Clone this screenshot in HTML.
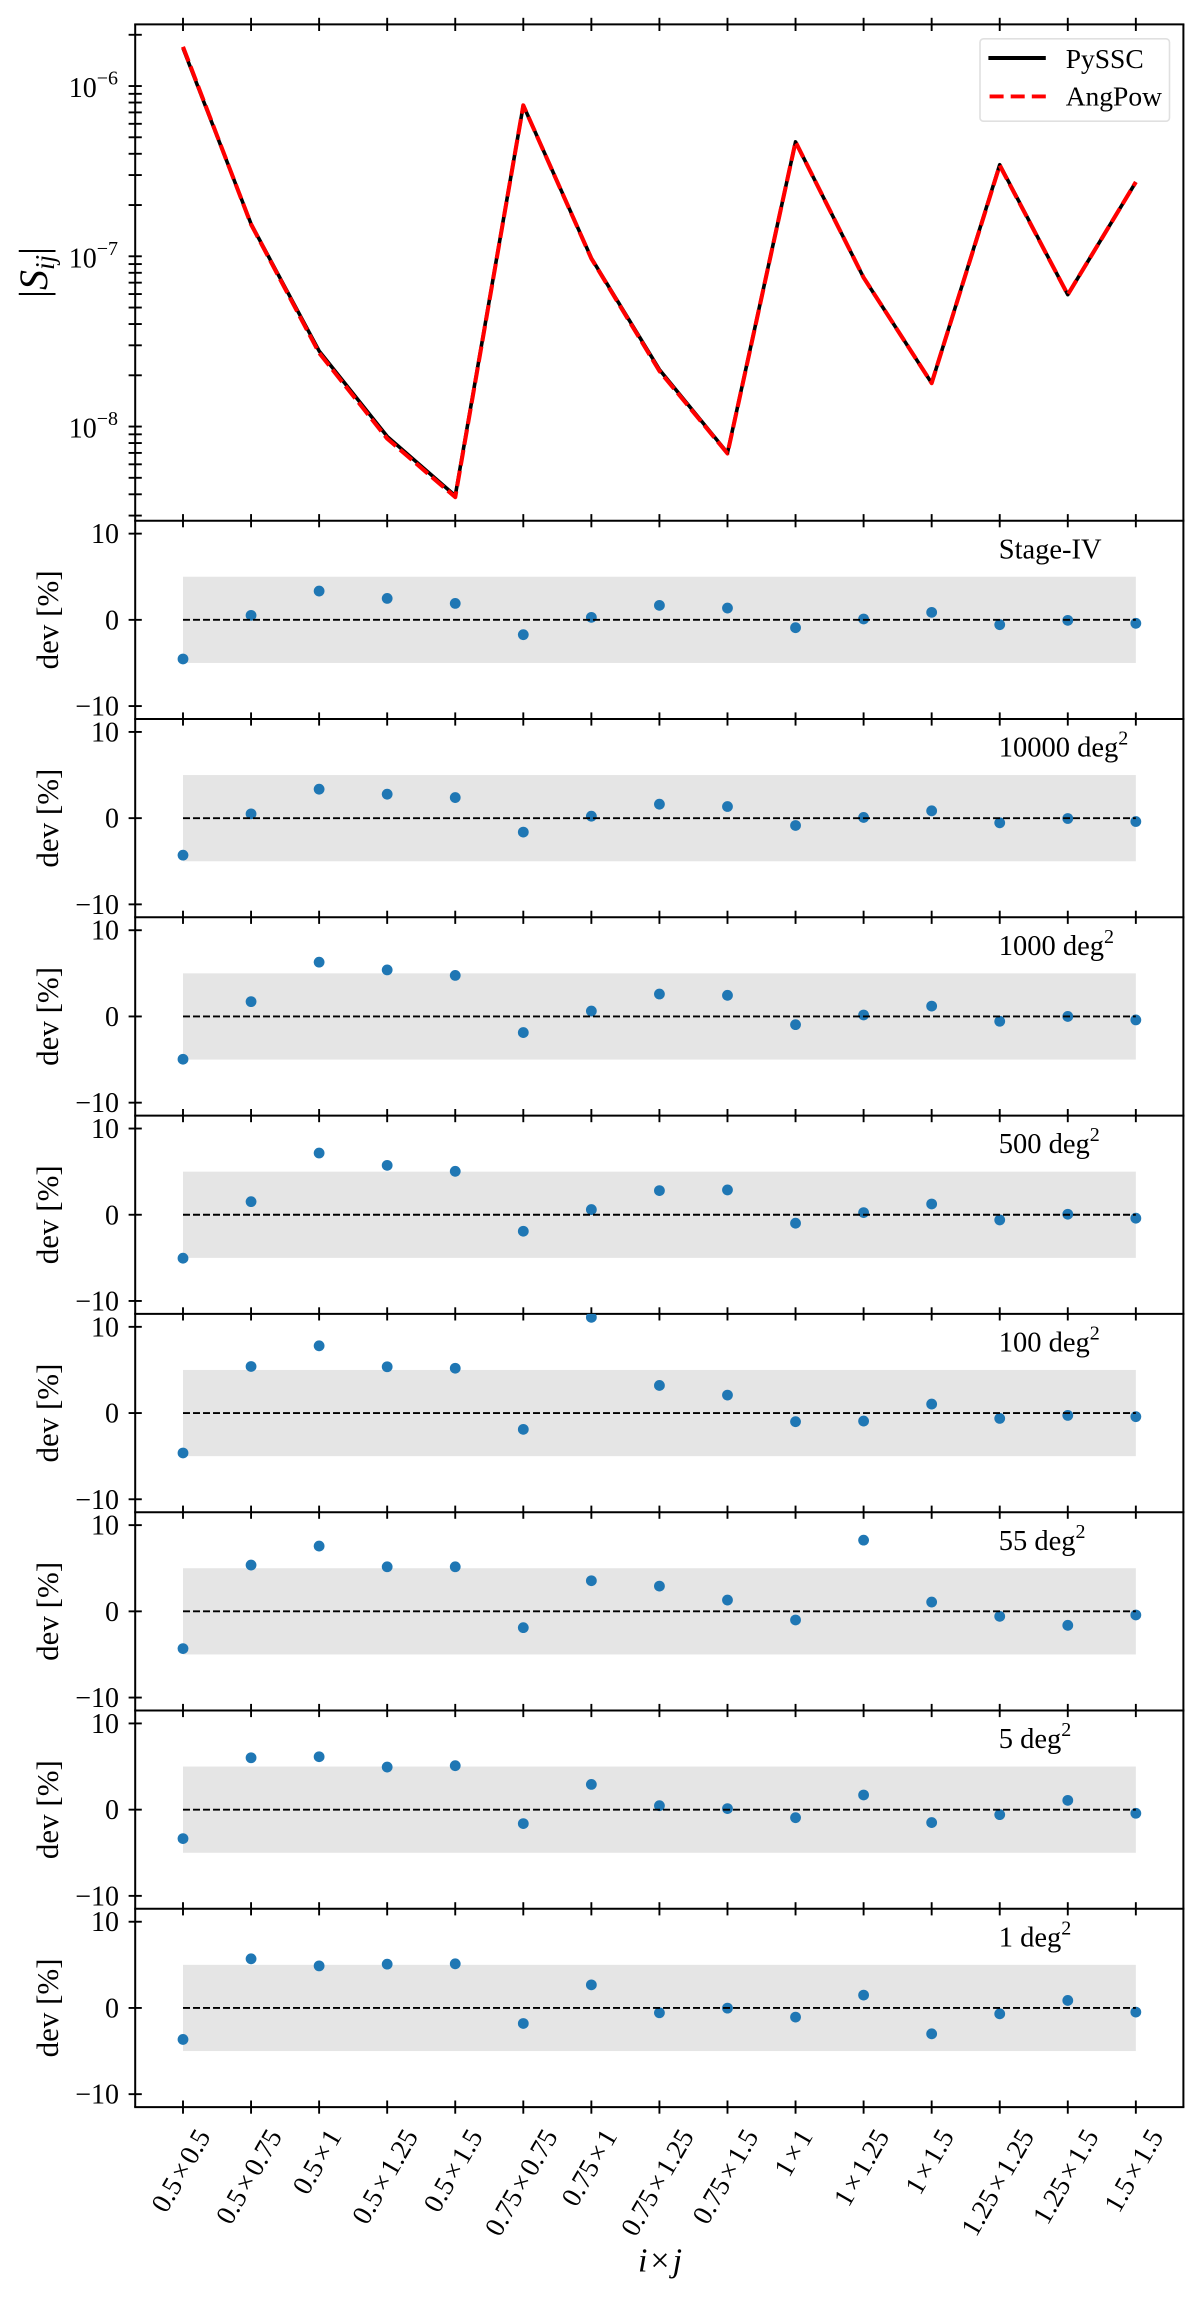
<!DOCTYPE html>
<html lang="en">
<head>
<meta charset="utf-8">
<title>PySSC vs AngPow Sij comparison</title>
<style>
html,body{margin:0;padding:0;background:#fff;}
svg{display:block;font-family:"Liberation Serif",serif;}
</style>
</head>
<body>
<svg id="chart" xmlns="http://www.w3.org/2000/svg" width="1200" height="2299" viewBox="0 0 1200 2299"></svg>
<script>
const categories = ['0.5×0.5','0.5×0.75','0.5×1','0.5×1.25','0.5×1.5','0.75×0.75','0.75×1','0.75×1.25','0.75×1.5','1×1','1×1.25','1×1.5','1.25×1.25','1.25×1.5','1.5×1.5'];
const pysscValues = [1.67e-6,1.55e-7,2.78e-8,8.75e-9,3.92e-9,7.7e-7,9.75e-8,2.16e-8,7.0e-9,4.7e-7,7.5e-8,1.8e-8,3.45e-7,5.95e-8,2.73e-7];
const angpowValues = [1.70e-6,1.54e-7,2.71e-8,8.5e-9,3.85e-9,7.7e-7,9.7e-8,2.12e-8,6.95e-9,4.7e-7,7.5e-8,1.8e-8,3.42e-7,5.95e-8,2.73e-7];
const panelLabels = ['Stage-IV','10000 deg','1000 deg','500 deg','100 deg','55 deg','5 deg','1 deg'];
const devStageIV = [-4.54,0.52,3.34,2.49,1.91,-1.72,0.29,1.68,1.37,-0.91,0.10,0.87,-0.56,-0.06,-0.40];
const dev10000 = [-4.29,0.50,3.36,2.78,2.39,-1.62,0.23,1.62,1.35,-0.85,0.08,0.85,-0.54,-0.04,-0.39];
const dev1000 = [-4.96,1.72,6.30,5.40,4.76,-1.87,0.63,2.60,2.45,-0.95,0.17,1.20,-0.56,0.00,-0.40];
const dev500 = [-5.04,1.52,7.16,5.73,5.04,-1.91,0.60,2.80,2.88,-0.98,0.25,1.25,-0.60,0.06,-0.40];
const dev100 = [-4.63,5.40,7.80,5.37,5.20,-1.89,11.10,3.20,2.08,-1.00,-0.93,1.04,-0.62,-0.27,-0.42];
const dev55 = [-4.32,5.37,7.57,5.17,5.17,-1.89,3.55,2.93,1.31,-1.00,8.26,1.08,-0.58,-1.62,-0.42];
const dev5 = [-3.36,6.02,6.14,4.94,5.10,-1.62,2.93,0.46,0.12,-0.93,1.70,-1.50,-0.58,1.08,-0.42];
const dev1 = [-3.65,5.70,4.88,5.08,5.12,-1.80,2.68,-0.56,-0.02,-1.06,1.49,-3.00,-0.68,0.87,-0.48];
const devTickValues = [10,0,-10];
const devTickLabels = ['10','0','−10'];
const logTickExponents = [-6,-7,-8];
const logTickLabels = ['−6','−7','−8'];
const logMinorMultipliers = [2,3,4,5,6,7,8,9];
const devSeries = [devStageIV,dev10000,dev1000,dev500,dev100,dev55,dev5,dev1];

const NS = 'http://www.w3.org/2000/svg';
const svg = document.getElementById('chart');
const axL = 135.2, axR = 1183.4, x0 = 183, xStep = 68.06;
const topT = 24.4, topB = 520.7, logTop = -5.638, logBottom = -8.553;
const panelStart = 520.7, panelH = 198.3, devLim = 11.5;
const TICK = 6.6;

function xScale(i){ return x0 + i * xStep; }
function yLog(v){ return topT + (logTop - Math.log10(v)) / (logTop - logBottom) * (topB - topT); }
function panelTop(p){ return panelStart + p * panelH; }
function yDev(p, v){ return panelTop(p) + (devLim - v) / (2 * devLim) * panelH; }
function mk(tag, attrs, parent){
  const el = document.createElementNS(NS, tag);
  for (const k in attrs) el.setAttribute(k, attrs[k]);
  (parent || svg).appendChild(el);
  return el;
}
function tickLine(parent, x1, y1, x2, y2){
  return mk('line', {x1:x1, y1:y1, x2:x2, y2:y2, stroke:'#000', 'stroke-width':1.9}, parent);
}
function sup(parent, txt, size, dy){
  const s = mk('tspan', {'font-size':size, dy:dy}, parent);
  s.textContent = txt;
  return s;
}

/* ---------- clip paths ---------- */
const defs = mk('defs', {});
const cpTop = mk('clipPath', {id:'clip-top'}, defs);
mk('rect', {x:axL, y:topT, width:axR-axL, height:topB-topT}, cpTop);
for (let p = 0; p < devSeries.length; p++) {
  const cp = mk('clipPath', {id:'clip-p'+p}, defs);
  mk('rect', {x:axL, y:panelTop(p), width:axR-axL, height:panelH}, cp);
}

/* ---------- spines and x ticks ---------- */
const frame = mk('g', {});


const boundaries = [topT];
for (let p = 0; p <= devSeries.length; p++) boundaries.push(panelTop(p));
boundaries.forEach(function(y){
  const s = mk('line', {x1:axL-1, y1:y, x2:axR+1, y2:y, stroke:'#000', 'stroke-width':2}, frame);
  
  
  categories.forEach(function(c, i){
    const t = tickLine(frame, xScale(i), y-TICK, xScale(i), y+TICK);
    
    
  });
});
const bottomY = boundaries[boundaries.length-1];
const spL = mk('line', {x1:axL, y1:topT, x2:axL, y2:bottomY, stroke:'#000', 'stroke-width':2}, frame);


const spR = mk('line', {x1:axR, y1:topT, x2:axR, y2:bottomY, stroke:'#000', 'stroke-width':2}, frame);



/* ---------- top panel ---------- */
const topPanel = mk('g', {});



function linePoints(values){
  return values.map(function(v, i){ return xScale(i).toFixed(2) + ',' + yLog(v).toFixed(2); }).join(' ');
}
const lineBlack = mk('polyline', {points:linePoints(pysscValues), fill:'none', stroke:'#000', 'stroke-width':3.6, 'stroke-linejoin':'round', 'clip-path':'url(#clip-top)'}, topPanel);


const lineRed = mk('polyline', {points:linePoints(angpowValues), fill:'none', stroke:'#f00', 'stroke-width':4.1, 'stroke-dasharray':'15.6 5.4', 'stroke-linejoin':'round', 'clip-path':'url(#clip-top)'}, topPanel);



const logTicks = mk('g', {}, topPanel);


for (let e = -9; e <= -6; e++) {
  logMinorMultipliers.forEach(function(m){
    const v = m * Math.pow(10, e);
    const lv = Math.log10(v);
    if (lv <= logTop && lv >= logBottom) {
      const t = tickLine(logTicks, axL-TICK, yLog(v), axL+TICK, yLog(v));
      
      
    }
  });
}
logTickExponents.forEach(function(e, i){
  const y = yLog(Math.pow(10, e));
  const t = tickLine(logTicks, axL-TICK, y, axL+TICK, y);
  
  
  const lab = mk('text', {x:118, y:y+11, 'text-anchor':'end', 'font-size':28}, logTicks);
  
  
  lab.appendChild(document.createTextNode('10'));
  sup(lab, logTickLabels[i], 20, -12.5);
});

const yTitle = mk('text', {transform:'translate(47,272.5) rotate(-90)', 'text-anchor':'middle', 'font-size':40}, topPanel);


yTitle.appendChild(document.createTextNode('|'));
const ySym = mk('tspan', {'font-style':'italic'}, yTitle);
ySym.textContent = 'S';
const ySub = mk('tspan', {'font-style':'italic','font-size':27, dy:7}, yTitle);
ySub.textContent = 'ij';
const yBar = mk('tspan', {dy:-7}, yTitle);
yBar.textContent = '|';

/* legend */
const legend = mk('g', {});


mk('rect', {x:980, y:38.8, width:189.5, height:82.4, rx:3.5, fill:'#fff', 'fill-opacity':0.8, stroke:'#e0e0e0', 'stroke-width':1.6}, legend);
const lg1 = mk('line', {x1:988.4, y1:58, x2:1045.8, y2:58, stroke:'#000', 'stroke-width':3.9}, legend);


const lg1t = mk('text', {x:1065.7, y:67.8, 'font-size':27.5}, legend);


lg1t.textContent = 'PySSC';
const lg2 = mk('line', {x1:989.6, y1:96.4, x2:1045.8, y2:96.4, stroke:'#f00', 'stroke-width':3.9, 'stroke-dasharray':'14 7.1'}, legend);


const lg2t = mk('text', {x:1065.7, y:105.7, 'font-size':27.5}, legend);


lg2t.textContent = 'AngPow';

/* ---------- deviation panels ---------- */
devSeries.forEach(function(series, p){
  const g = mk('g', {});
  
  

  const band = mk('rect', {x:xScale(0), y:yDev(p,5), width:xScale(14)-xScale(0), height:yDev(p,-5)-yDev(p,5), fill:'#e5e5e5'}, g);
  
  

  series.forEach(function(v, i){
    const c = mk('circle', {cx:xScale(i), cy:yDev(p,v), r:5.4, fill:'#1f77b4', 'clip-path':'url(#clip-p'+p+')'}, g);
    
    
  });

  const zero = mk('line', {x1:xScale(0), y1:yDev(p,0), x2:xScale(14), y2:yDev(p,0), stroke:'#000', 'stroke-width':1.9, 'stroke-dasharray':'7 3'}, g);
  
  

  devTickValues.forEach(function(v, i){
    const y = yDev(p, v);
    const t = tickLine(g, axL-TICK, y, axL+TICK, y);
    
    
    const lab = mk('text', {x:119, y:y+9.5, 'text-anchor':'end', 'font-size':28}, g);
    
    
    lab.textContent = devTickLabels[i];
  });

  const cy = panelTop(p) + panelH / 2;
  const title = mk('text', {transform:'translate(58,'+cy+') rotate(-90)', 'text-anchor':'middle', 'font-size':31}, g);
  
  
  title.textContent = 'dev [%]';

  const ann = mk('text', {x:xScale(12) - 1, y:panelTop(p)+37.6, 'font-size':28.5}, g);
  
  
  ann.appendChild(document.createTextNode(panelLabels[p]));
  if (panelLabels[p].indexOf('deg') >= 0) sup(ann, '2', 20, -12);
});

/* ---------- x tick labels ---------- */
const sin60 = Math.sin(Math.PI/3), cos60 = Math.cos(Math.PI/3);
categories.forEach(function(c, i){
  const parts = c.split('×');
  const t = mk('text', {'text-anchor':'middle', 'font-size':27.5});
  
  
  const a = mk('tspan', {}, t);
  a.textContent = parts[0];
  const m = mk('tspan', {dx:3}, t);
  m.textContent = '×';
  const b = mk('tspan', {dx:3}, t);
  b.textContent = parts[1];
  const L = t.getBBox().width;
  const H = 18;
  const cx = xScale(i) - 2.5;
  const cyL = bottomY + 19.7 + (L * sin60 + H * cos60) / 2;
  t.setAttribute('x', cx);
  t.setAttribute('y', cyL + 9.5);
  t.setAttribute('transform', 'rotate(-60 ' + cx + ' ' + cyL + ')');
});

const xTitle = mk('text', {x:660, y:2271.7, 'text-anchor':'middle', 'font-size':34});


const xi = mk('tspan', {'font-style':'italic'}, xTitle);
xi.textContent = 'i';
const xm = mk('tspan', {dx:3}, xTitle);
xm.textContent = '×';
const xj = mk('tspan', {dx:3, 'font-style':'italic'}, xTitle);
xj.textContent = 'j';
</script>
</body>
</html>
